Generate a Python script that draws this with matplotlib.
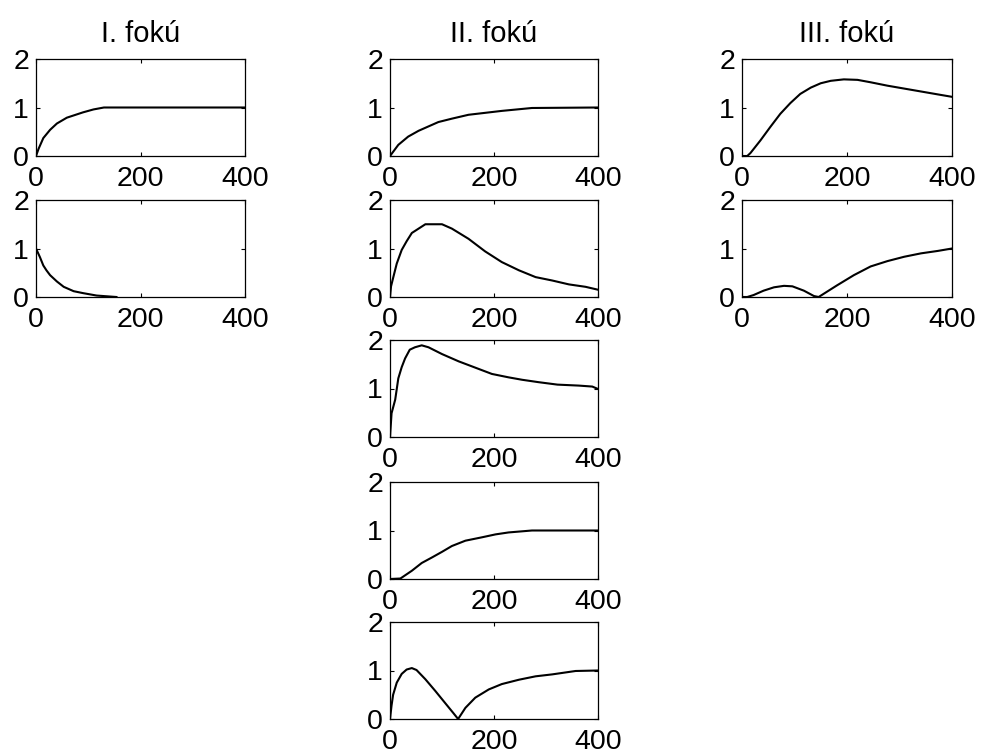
import matplotlib
matplotlib.use("Agg")
import matplotlib.pyplot as plt

plt.rcParams.update({
    'font.family': ['Liberation Sans', 'DejaVu Sans'],
    'font.size': 20,
})

# I. fokú – átmeneti és súlyfüggvény
t_1_step = [0, 5, 14, 27, 40, 59, 90, 110, 130, 400]
y_1_step = [0, 0.15, 0.37, 0.54, 0.67, 0.79, 0.90, 0.96, 1.0, 1.0]
t_1_imp = [0, 7.6, 14, 20, 27, 40, 53, 72, 90, 116, 154]
y_1_imp = [1.0, 0.82, 0.65, 0.55, 0.45, 0.32, 0.21, 0.12, 0.08, 0.03, 0.0]

# II. fokú – öt válasz
t_2a = [0, 16, 35, 55, 74, 93, 119, 151, 183, 215, 273, 400]
y_2a = [0, 0.23, 0.40, 0.52, 0.61, 0.70, 0.77, 0.85, 0.89, 0.93, 0.99, 1.0]
t_2b = [0, 2, 6.4, 13, 22.5, 32, 42, 55, 68, 100, 119, 151, 183, 215, 248, 280,
        312, 344, 376, 400]
y_2b = [0, 0.22, 0.41, 0.69, 0.97, 1.15, 1.32, 1.41, 1.50, 1.50, 1.41, 1.20,
        0.94, 0.72, 0.55, 0.41, 0.34, 0.26, 0.21, 0.15]
t_2c = [0, 3, 10, 16, 22.5, 29, 38, 48, 61, 74, 100, 132, 164, 196, 228, 254,
        286, 322, 363, 389, 400]
y_2c = [0, 0.49, 0.77, 1.21, 1.44, 1.62, 1.80, 1.85, 1.89, 1.85, 1.71, 1.56,
        1.43, 1.30, 1.23, 1.18, 1.13, 1.08, 1.06, 1.04, 0.99]
t_2d = [0, 20, 42, 61, 80, 100, 119, 145, 177, 203, 228, 273, 400]
y_2d = [0, 0.01, 0.17, 0.33, 0.44, 0.56, 0.68, 0.79, 0.86, 0.92, 0.96, 1.0, 1.0]
t_2e = [0, 3, 6, 13, 22.5, 32, 42, 51, 68, 87, 106, 122, 131, 145, 164, 190,
        215, 248, 280, 312, 357, 400]
y_2e = [0, 0.28, 0.50, 0.75, 0.93, 1.02, 1.05, 1.01, 0.82, 0.58, 0.33, 0.12,
        0.0, 0.23, 0.44, 0.61, 0.72, 0.81, 0.88, 0.92, 0.99, 1.0]

# III. fokú – két válasz
t_3a = [0, 10, 16, 35, 54, 73, 92, 111, 131, 150, 169, 194, 220, 245, 277,
        309, 341, 373, 400]
y_3a = [0, 0.0, 0.06, 0.32, 0.60, 0.87, 1.09, 1.28, 1.41, 1.50, 1.55, 1.58,
        1.57, 1.52, 1.45, 1.39, 1.33, 1.27, 1.22]
t_3b = [0, 10, 22, 41, 61, 80, 96, 118, 137, 146, 162, 181, 213, 245, 277,
        309, 341, 373, 400]
y_3b = [0, 0.0, 0.04, 0.13, 0.20, 0.23, 0.22, 0.13, 0.02, 0.0, 0.11, 0.24,
        0.45, 0.63, 0.74, 0.83, 0.90, 0.95, 1.0]

col_titles = ['I. fokú', 'II. fokú', 'III. fokú']
x_ticks = [0, 200, 400]
y_ticks = [0, 1, 2]

columns = [
    [(t_1_step, y_1_step), (t_1_imp, y_1_imp)],
    [(t_2a, y_2a), (t_2b, y_2b), (t_2c, y_2c), (t_2d, y_2d), (t_2e, y_2e)],
    [(t_3a, y_3a), (t_3b, y_3b)],
]

W, H = 983, 754
fig = plt.figure(figsize=(W / 100, H / 100), dpi=100)

# tengelyek helye pixelben
col_left = [36, 390, 742]
col_width = [209, 208, 210]
row_top = [59, 200, 340, 482, 622]
ax_h = 97

for c, curves in enumerate(columns):
    for r, (t, y) in enumerate(curves):
        ax = fig.add_axes([col_left[c] / W, 1 - (row_top[r] + ax_h) / H,
                           col_width[c] / W, ax_h / H])
        ax.plot(t, y, color='black', lw=1.5)
        ax.set_xlim(0, 400)
        ax.set_ylim(0, 2)
        ax.set_xticks(x_ticks)
        ax.set_yticks(y_ticks)
        ax.tick_params(direction='in', length=3, width=0.8, top=True, right=True,
                       labelsize=20.5)
        ax.tick_params(axis='x', pad=7)
        ax.tick_params(axis='y', pad=5)
        for s in ax.spines.values():
            s.set_linewidth(0.9)
        if r == 0:
            ax.set_title(col_titles[c], fontsize=21, pad=12)

fig.savefig('out.png', dpi=100)
